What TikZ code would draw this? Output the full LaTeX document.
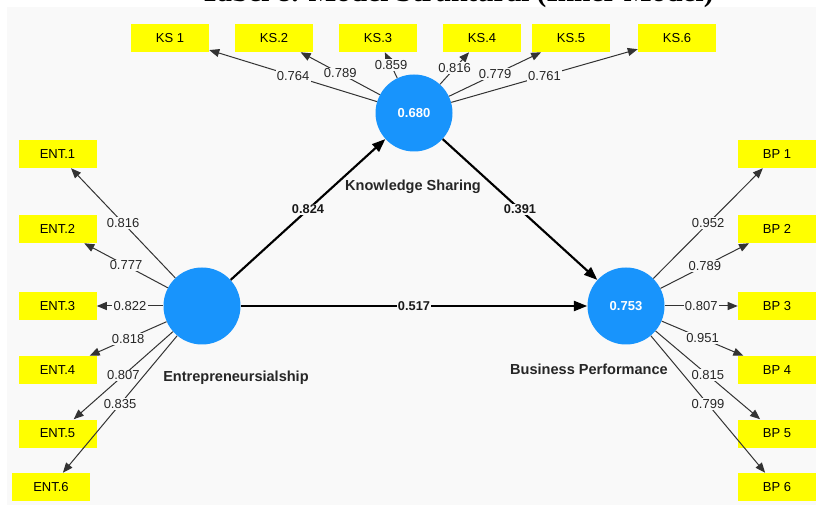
\documentclass[tikz,border=0pt]{standalone}
\usepackage{fontspec}
\setmainfont{Liberation Sans}
\newfontfamily\titlefont{Liberation Serif}
\usetikzlibrary{arrows.meta}
\definecolor{panel}{HTML}{F9F9F9}
\definecolor{latent}{RGB}{24,148,252}
\definecolor{indic}{HTML}{FFFF00}
\definecolor{wire}{HTML}{333333}
\begin{document}
\begin{tikzpicture}[x=0.75pt,y=-0.75pt,
    item/.style={fill=indic, minimum width=58.5pt, minimum height=21pt, inner sep=0pt,
      font=\fontsize{9.75}{11}\selectfont},
    construct/.style={circle, fill=latent, minimum size=57.75pt, inner sep=0pt,
      text=white, font=\bfseries\fontsize{9.75}{11}\selectfont},
    loading/.style={draw=wire, line width=0.75pt, -{Triangle[length=7.5pt,width=6pt]}},
    structural/.style={draw=black, line width=1.6pt, -{Triangle[length=10pt,width=7.5pt]}},
    weight/.style={fill=panel, inner sep=1pt, text=black!85, font=\fontsize{9.75}{11}\selectfont},
    beta/.style={fill=panel, inner sep=1pt, text=black!90, font=\bfseries\fontsize{9.6}{11}\selectfont},
    caption/.style={inner sep=0pt, text=black!85, font=\bfseries\fontsize{10.9}{13}\selectfont}]
  % Page and grey panel
  \useasboundingbox (0,0) rectangle (816,505);
  \fill[panel] (7,7) rectangle (816,505);
  % Title, cut off by the top edge
  \node[anchor=base, inner sep=0pt, font=\titlefont\bfseries\fontsize{22}{24}\selectfont] (T) at (457,1.5)
    {Tabel 8. Model Struktural (Inner Model)};
  % Latent variables
  \node[construct] (E) at (202,306) {};
  \node[construct] (K) at (414,113) {0.680};
  \node[construct] (P) at (626,306) {0.753};
  \node[caption, anchor=west] (Elab) at (163,378) {Entrepreneursialship};
  \node[caption] (Klab) at (413,187) {Knowledge Sharing};
  \node[caption, anchor=east] (Plab) at (668,369) {Business Performance};
  % Indicators of Knowledge Sharing
  \node[item] (KS1) at (170,38) {KS 1};
  \node[item] (KS2) at (274,38) {KS.2};
  \node[item] (KS3) at (378,38) {KS.3};
  \node[item] (KS4) at (482,38) {KS.4};
  \node[item] (KS5) at (571,38) {KS.5};
  \node[item] (KS6) at (677,38) {KS.6};
  % Indicators of Entrepreneursialship
  \node[item] (ENT1) at (57.5,154) {ENT.1};
  \node[item] (ENT2) at (57.5,229) {ENT.2};
  \node[item] (ENT3) at (57.5,306) {ENT.3};
  \node[item] (ENT4) at (57.5,370) {ENT.4};
  \node[item] (ENT5) at (57.5,433.5) {ENT.5};
  \node[item] (ENT6) at (51,487) {ENT.6};
  % Indicators of Business Performance
  \node[item] (BP1) at (777,154) {BP 1};
  \node[item] (BP2) at (777,229) {BP 2};
  \node[item] (BP3) at (777,306) {BP 3};
  \node[item] (BP4) at (777,370) {BP 4};
  \node[item] (BP5) at (777,433.5) {BP 5};
  \node[item] (BP6) at (777,487) {BP 6};
  % Outer loadings
  \draw[loading] (K) -- node[weight] {0.764} (KS1);
  \draw[loading] (K) -- node[weight] {0.789} (KS2);
  \draw[loading] (K) -- node[weight] {0.859} (KS3);
  \draw[loading] (K) -- node[weight] {0.816} (KS4);
  \draw[loading] (K) -- node[weight] {0.779} (KS5);
  \draw[loading] (K) -- node[weight] {0.761} (KS6);
  \draw[loading] (E) -- node[weight] {0.816} (ENT1);
  \draw[loading] (E) -- node[weight] {0.777} (ENT2);
  \draw[loading] (E) -- node[weight] {0.822} (ENT3);
  \draw[loading] (E) -- node[weight] {0.818} (ENT4);
  \draw[loading] (E) -- node[weight] {0.807} (ENT5);
  \draw[loading] (E) -- node[weight] {0.835} (ENT6);
  \draw[loading] (P) -- node[weight] {0.952} (BP1);
  \draw[loading] (P) -- node[weight] {0.789} (BP2);
  \draw[loading] (P) -- node[weight] {0.807} (BP3);
  \draw[loading] (P) -- node[weight] {0.951} (BP4);
  \draw[loading] (P) -- node[weight] {0.815} (BP5);
  \draw[loading] (P) -- node[weight] {0.799} (BP6);
  % Path coefficients
  \draw[structural] (E) -- node[beta] {0.824} (K);
  \draw[structural] (K) -- node[beta] {0.391} (P);
  \draw[structural] (E) -- node[beta] {0.517} (P);
\end{tikzpicture}
\end{document}
